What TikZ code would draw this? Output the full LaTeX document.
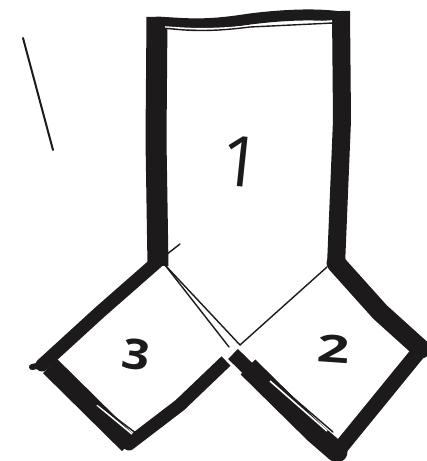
\documentclass[tikz,border=0pt]{standalone}
\usepackage{fontspec}
\setmainfont{Open Sans}
\usetikzlibrary{positioning,calc}
\definecolor{Ink}{HTML}{1C1A1A}

\begin{document}
\begin{tikzpicture}[
  x=1pt, y=-1pt,
  fat/.style={draw=Ink, line width=#1, line join=round, line cap=round},
  fat/.default=11pt,
  thin line/.style={draw=Ink, line width=1.4pt, line cap=round},
  gap line/.style={draw=white, line width=1.6pt},
  digit/.style={text=Ink, inner sep=0pt, font=\fontsize{#1}{#1}\selectfont\bfseries},
]
  \useasboundingbox[fill=white] (0,0) rectangle (427,461);

  % corners of the tall box
  \coordinate (boxtl) at (157,22);
  \coordinate (boxtr) at (341,17);
  \coordinate (boxbl) at (157,262);
  \coordinate (boxbr) at (336,263);
  % square 3
  \coordinate (leftc) at (42,365);
  \coordinate (leftb) at (129,444);
  \coordinate (leftr) at (226,361);
  % square 2
  \coordinate (midc) at (233,354);
  \coordinate (rightc) at (421,349);
  \coordinate (rightb) at (337,452);

  % tall box
  \draw[fat=21pt, line cap=butt] (157,17) -- (156,140) -- (158,266);
  \draw[fat=18pt, line cap=butt] (341,11) -- (342,120) -- (336,266);
  \draw[fat=11pt] (boxtl) .. controls (190,24) and (205,26) .. (250,19) .. controls (290,14) and (320,14) .. (boxtr);
  \draw[gap line] (165,27) .. controls (190,29) and (210,30) .. (250,26) -- (332,21);
  \draw[thin line] (163,28) .. controls (190,31) and (210,32) .. (250,27) -- (333,23);

  % square 3
  \draw[fat=13pt] (boxbl) -- (100,312) -- (leftc);
  \draw[fat=6pt] (leftc) -- (32,367);
  \draw[fat=20pt, line cap=butt] (50,366) -- (leftb);
  \draw[fat=13pt] (leftb) -- (180,405);
  \draw[fat=13pt, line cap=butt] (180,405) -- (leftr);
  \draw[gap line] (97,405) -- (132,434);
  \draw[thin line] (95,402) -- (137,434);

  % square 2
  \draw[fat=19pt] (boxbr) -- (380,312) -- (rightc);
  \draw[fat=15pt] (rightc) -- (rightb);
  \draw[fat=21pt] (rightb) -- (315,433);
  \draw[fat=14pt, line cap=butt] (270,390) -- (midc);
  \draw[fat=21pt, line cap=butt] (315,433) -- (248,367);
  \draw[gap line] (270,381) -- (327,431);
  \draw[thin line] (268,376) -- (333,432);

  % thin joins
  \draw[thin line] (boxbl) -- (180,244);
  \draw[thin line] (165,265) -- (229,347);
  \draw[thin line] (165,265) -- (240,345);
  \draw[thin line] (327,267) -- (240,345);

  % stray stroke on the left
  \draw[thin line, line width=2pt] (23,38) -- (53,150);

  \node[rotate=-6, text=Ink, inner sep=0pt, font=\fontsize{70}{70}\selectfont] (one) at (241,162) {1};
  \node[digit=38, rotate=-4, xscale=1.5] (two) at (334,349) {2};
  \node[digit=42, rotate=-8, xscale=1.15] (three) at (136,355) {3};
\end{tikzpicture}
\end{document}
